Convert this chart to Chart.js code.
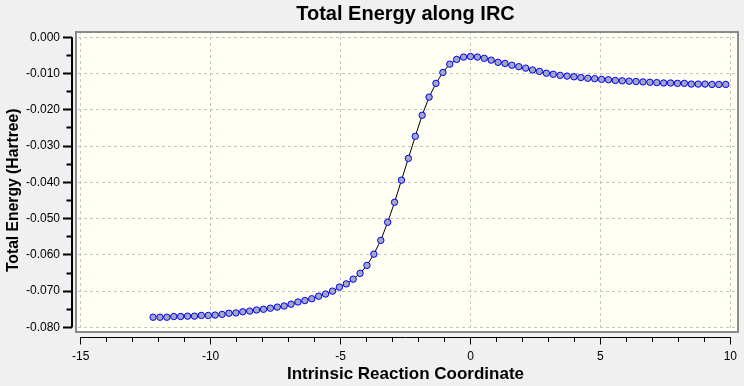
<!DOCTYPE html>
<html>
<head>
<meta charset="utf-8">
<script src="https://cdn.jsdelivr.net/npm/chart.js@4.4.1/dist/chart.umd.min.js"></script>
<style>
  html, body { margin: 0; padding: 0; background: #f0f0f0; }
  canvas { display: block; }
</style>
</head>
<body>
<canvas id="ircChart" width="744" height="386"></canvas>
<script>
// IRC points (reaction coordinate) and total energy
const ircCoord = [
    -12.213, -11.948, -11.682, -11.417, -11.151, -10.886, -10.620, -10.355, -10.089, -9.824,
    -9.558, -9.293, -9.027, -8.762, -8.496, -8.231, -7.965, -7.700, -7.434, -7.169,
    -6.903, -6.638, -6.372, -6.107, -5.841, -5.576, -5.310, -5.045, -4.779, -4.514,
    -4.248, -3.983, -3.717, -3.452, -3.186, -2.921, -2.655, -2.390, -2.124, -1.859,
    -1.593, -1.328, -1.062, -0.797, -0.531, -0.266, 0, 0.266, 0.531, 0.797,
    1.062, 1.328, 1.593, 1.859, 2.124, 2.390, 2.655, 2.921, 3.186, 3.452,
    3.717, 3.983, 4.248, 4.514, 4.779, 5.045, 5.310, 5.576, 5.841, 6.107,
    6.372, 6.638, 6.903, 7.169, 7.434, 7.700, 7.965, 8.231, 8.496, 8.762,
    9.027, 9.293, 9.558, 9.824
];
const totalEnergy = [
    -0.0772, -0.0772, -0.0772, -0.0770, -0.0770, -0.0769, -0.0769, -0.0767, -0.0767, -0.0766,
    -0.0764, -0.0761, -0.0760, -0.0757, -0.0755, -0.0752, -0.0750, -0.0747, -0.0744, -0.0741,
    -0.0736, -0.0730, -0.0726, -0.0721, -0.0714, -0.0708, -0.0700, -0.0689, -0.0680, -0.0667,
    -0.0651, -0.0629, -0.0598, -0.0560, -0.0510, -0.0455, -0.0394, -0.0334, -0.0273, -0.0215,
    -0.0165, -0.0127, -0.0097, -0.0074, -0.0061, -0.00545, -0.0053, -0.00545, -0.0058, -0.0063,
    -0.0069, -0.0072, -0.0077, -0.0081, -0.0085, -0.0090, -0.0094, -0.0099, -0.0102, -0.0105,
    -0.0107, -0.0109, -0.0111, -0.0113, -0.0114, -0.0116, -0.0117, -0.0119, -0.0120, -0.0121,
    -0.0122, -0.0123, -0.0124, -0.0125, -0.0126, -0.0126, -0.0127, -0.0127, -0.0129, -0.0129,
    -0.0129, -0.0130, -0.0130, -0.0130
];

const xTickValues = [-15, -14, -13, -12, -11, -10, -9, -8, -7, -6, -5, -4, -3, -2, -1, 0, 1, 2, 3, 4, 5, 6, 7, 8, 9, 10];
const xMajorTicks = [-15, -10, -5, 0, 5, 10];
const yTickValues = [0, -0.005, -0.01, -0.015, -0.02, -0.025, -0.03, -0.035, -0.04, -0.045, -0.05, -0.055, -0.06, -0.065, -0.07, -0.075, -0.08];
const yMajorTicks = [0, -0.01, -0.02, -0.03, -0.04, -0.05, -0.06, -0.07, -0.08];

const FONT = "'Liberation Sans', Arial, sans-serif";
const isMajorX = v => xMajorTicks.includes(v);
const isMajorY = v => yMajorTicks.some(m => Math.abs(m - v) < 1e-9);

// ivory plot box, a few px inside the axis lines
const plotFrame = {
    id: 'plotFrame',
    beforeDraw(chart) {
        const { ctx, chartArea: a } = chart;
        ctx.save();
        ctx.fillStyle = '#f0f0f0';
        ctx.fillRect(0, 0, chart.width, chart.height);
        ctx.fillStyle = '#fffff4';
        ctx.fillRect(a.left + 3, a.top, a.right - a.left - 3, a.bottom - a.top - 3.5);
        ctx.restore();
    },
    beforeDatasetsDraw(chart) {
        const { ctx, chartArea: a } = chart;
        ctx.save();
        ctx.fillStyle = '#f0f0f0';
        ctx.fillRect(a.left, a.top, 3, a.bottom - a.top);
        ctx.fillRect(a.left, a.bottom - 3.5, a.right - a.left, 3.5);
        ctx.strokeStyle = '#8a8a8a';
        ctx.lineWidth = 2;
        ctx.strokeRect(a.left + 4, a.top + 1, a.right - a.left - 5, a.bottom - a.top - 5.5);
        ctx.restore();
    },
    afterDraw(chart) {
        const { ctx, chartArea: a, scales: { x, y } } = chart;
        ctx.save();
        ctx.strokeStyle = '#000';
        ctx.lineWidth = 1;
        ctx.beginPath();
        ctx.moveTo(x.getPixelForValue(xMajorTicks[0]), Math.round(a.bottom) + 0.5);
        ctx.lineTo(x.getPixelForValue(xMajorTicks[xMajorTicks.length - 1]), Math.round(a.bottom) + 0.5);
        ctx.stroke();
        ctx.lineWidth = 2;
        ctx.beginPath();
        ctx.moveTo(Math.round(a.left), y.getPixelForValue(yMajorTicks[0]));
        ctx.lineTo(Math.round(a.left), y.getPixelForValue(yMajorTicks[yMajorTicks.length - 1]));
        ctx.stroke();
        ctx.restore();
    }
};

new Chart(document.getElementById('ircChart'), {
    type: 'scatter',
    data: {
        datasets: [{
            data: ircCoord.map((v, i) => ({ x: v, y: totalEnergy[i] })),
            showLine: true,
            borderColor: '#000',
            borderWidth: 1,
            tension: 0,
            pointRadius: 3.2,
            pointBackgroundColor: '#a4a7c2',
            pointBorderColor: '#0000ff',
            pointBorderWidth: 1,
        }],
    },
    options: {
        responsive: false,
        animation: false,
        layout: { padding: { right: 2 } },
        plugins: {
            legend: { display: false },
            tooltip: { enabled: false },
            title: {
                display: true,
                text: 'Total Energy along IRC',
                color: '#000',
                fullSize: false,
                font: { family: FONT, size: 20, weight: 'bold' },
                padding: { top: 2.5, bottom: 4.5 },
            },
        },
        scales: {
            x: {
                type: 'linear',
                min: -15.333,
                max: 10.333,
                afterBuildTicks: s => { s.ticks = xTickValues.map(v => ({ value: v })); },
                afterFit: s => { s.height = 49.5; },
                border: { display: false, dash: [3, 3] },
                grid: {
                    color: c => isMajorX(c.tick.value) ? '#c4c4c4' : 'rgba(0,0,0,0)',
                    lineWidth: 1,
                    tickColor: '#000',
                    tickLength: 8,
                    tickWidth: 1,
                    tickBorderDash: c => isMajorX(c.tick.value) ? [] : [5, 40],
                },
                ticks: {
                    autoSkip: false,
                    maxRotation: 0,
                    padding: 5,
                    color: '#000',
                    font: { family: FONT, size: 12 },
                    callback: v => isMajorX(v) ? String(v) : '',
                },
                title: {
                    display: true,
                    text: 'Intrinsic Reaction Coordinate',
                    color: '#000',
                    font: { family: FONT, size: 17, weight: 'bold' },
                    padding: { top: 0, bottom: 1 },
                },
            },
            y: {
                type: 'linear',
                min: -0.08251,
                max: 0.001737,
                afterBuildTicks: s => { s.ticks = yTickValues.map(v => ({ value: v })); },
                afterFit: s => { s.width = 72; },
                border: { display: false, dash: [3, 3] },
                grid: {
                    color: c => isMajorY(c.tick.value) ? '#c4c4c4' : 'rgba(0,0,0,0)',
                    lineWidth: 1,
                    tickColor: '#000',
                    tickLength: 9,
                    tickWidth: 2,
                    // minor ticks: skip the outer 3.5px so they hang from the axis line
                    tickBorderDash: c => isMajorY(c.tick.value) ? [] : [5.5, 40],
                    tickBorderDashOffset: c => isMajorY(c.tick.value) ? 0 : 42,
                },
                ticks: {
                    autoSkip: false,
                    padding: 3,
                    color: '#000',
                    font: { family: FONT, size: 12 },
                    callback: v => isMajorY(v) ? v.toFixed(3) : '',
                },
                title: {
                    display: true,
                    text: 'Total Energy (Hartree)   ',
                    color: '#000',
                    font: { family: FONT, size: 15.7, weight: 'bold' },
                    padding: { top: 4.5, bottom: 0 },
                },
            },
        },
    },
    plugins: [plotFrame],
});
</script>
</body>
</html>
